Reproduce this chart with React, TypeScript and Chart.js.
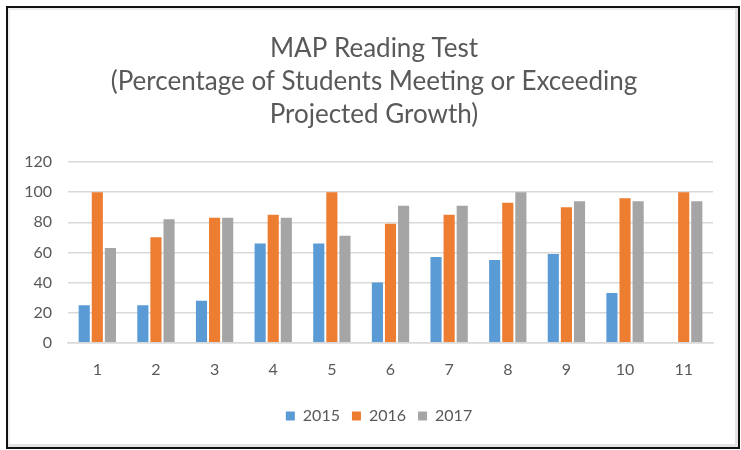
import React, { useEffect, useRef } from "react";
import { Chart, registerables } from "chart.js";

Chart.register(...registerables);

const categories = ["1", "2", "3", "4", "5", "6", "7", "8", "9", "10", "11"];
const seriesNames = ["2015", "2016", "2017"];
const values2015: (number | null)[] = [25, 25, 28, 66, 66, 40, 57, 55, 59, 33, null];
const values2016: (number | null)[] = [100, 70, 83, 85, 100, 79, 85, 93, 90, 96, 100];
const values2017: (number | null)[] = [63, 82, 83, 83, 71, 91, 91, 100, 94, 94, 94];
const seriesColors = ["#5B9BD5", "#ED7D31", "#A5A5A5"];
const titleLines = [
  "MAP Reading Test",
  "(Percentage of Students Meeting or Exceeding",
  "Projected Growth)",
];
const yMin = 0;
const yMax = 120;
const yStep = 20;

const FONT = "Lato, 'Open Sans', sans-serif";
const TEXT = "#595959";

const blockShift = {
  id: "blockShift",
  afterLayout(chart: any) {
    if (chart.legend) {
      chart.legend.left += 15;
      chart.legend.right += 15;
    }
    if (chart.titleBlock) {
      chart.titleBlock.left += 10;
      chart.titleBlock.right += 10;
    }
  },
};

export default function App() {
  const ref = useRef<HTMLCanvasElement | null>(null);

  useEffect(() => {
    if (!ref.current) return;
    const chart = new Chart(ref.current, {
      type: "bar",
      data: {
        labels: categories,
        datasets: [values2015, values2016, values2017].map((d, i) => ({
          label: seriesNames[i],
          data: d,
          backgroundColor: seriesColors[i],
          borderWidth: 0,
          categoryPercentage: 0.67,
          barPercentage: 0.85,
        })),
      },
      plugins: [blockShift],
      options: {
        responsive: false,
        animation: false,
        layout: { padding: { top: 32, left: 15, right: 28, bottom: 16 } },
        plugins: {
          tooltip: { enabled: false },
          title: {
            display: true,
            text: titleLines,
            color: TEXT,
            font: { family: FONT, size: 26, weight: "normal", lineHeight: 1.27 },
            padding: { top: 0, bottom: 31 },
          },
          legend: {
            position: "bottom",
            labels: {
              color: TEXT,
              font: { family: FONT, size: 16 },
              boxWidth: 9,
              boxHeight: 9,
              padding: 12,
            },
          },
        },
        scales: {
          x: {
            grid: { display: false, drawTicks: false },
            border: { display: true, color: "#D9D9D9", width: 1.5 },
            ticks: { color: TEXT, font: { family: FONT, size: 16 }, padding: 17 },
          },
          y: {
            min: yMin,
            max: yMax,
            afterFit: (scale: any) => {
              scale.width = 53;
            },
            grid: { color: "#D9D9D9", lineWidth: 1.5, drawTicks: false },
            border: { display: false },
            ticks: {
              stepSize: yStep,
              color: TEXT,
              font: { family: FONT, size: 16 },
              padding: 16,
            },
          },
        },
      },
    });
    return () => chart.destroy();
  }, []);

  return (
    <div style={{ position: "absolute", left: 0, top: 0, width: 741, height: 450, background: "#fff" }}>
      <canvas ref={ref} width={741} height={450} style={{ display: "block" }} />
      <div
        style={{
          position: "absolute",
          left: 6,
          top: 6,
          width: 734,
          height: 443,
          boxSizing: "border-box",
          border: "2px solid #111",
          boxShadow: "inset -3px -3px 0 0 #e4e4e4, inset 2px 2px 0 0 #eeeeee",
          pointerEvents: "none",
        }}
      />
    </div>
  );
}
